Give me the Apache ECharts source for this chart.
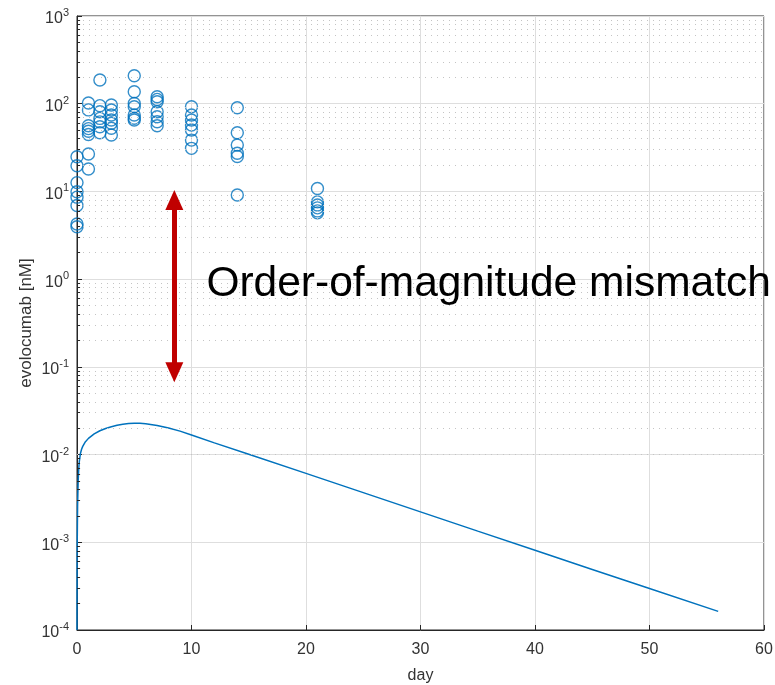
<!DOCTYPE html>
<html>
<head>
<meta charset="utf-8">
<script src="https://cdn.jsdelivr.net/npm/echarts@6/dist/echarts.min.js"></script>
<style>
  html, body { margin: 0; padding: 0; background: #ffffff; }
  #chart { width: 775px; height: 685px; }
</style>
</head>
<body>
<div id="chart"></div>
<script>
// Measured serum evolocumab concentrations [nM], grouped by sampling day
const sampleDays = [0, 1, 2, 3, 5, 7, 10, 14, 21];
const measuredConc = [
  [24.9, 19.6, 12.6, 9.9, 8.6, 6.9, 4.25, 3.96],
  [102, 85, 56, 52, 48.5, 44.5, 26.7, 18],
  [186, 95, 81, 68, 62, 54.7, 46.7],
  [96.6, 84.8, 74.3, 65.2, 59.8, 52.5, 44],
  [208, 137, 100.7, 92.5, 74.3, 68.2, 65.2],
  [120, 112, 105.4, 81, 71, 62.4, 56],
  [92.5, 74.3, 65.2, 57.2, 50.1, 38.5, 31],
  [90, 46.7, 33.8, 27.2, 25, 9.1],
  [10.8, 7.6, 7.0, 6.5, 6.0, 5.7]
];

// Simulated concentration–time profile [nM]
const simDays = [0, 0.005, 0.01, 0.02, 0.05, 0.1, 0.15, 0.2, 0.3, 0.4, 0.5, 0.7, 1, 1.5, 2, 2.5, 3, 3.5, 4, 4.5, 5, 5.5, 6, 7, 8, 9, 10, 12, 15, 20, 25, 30, 35, 40, 45, 50, 56];
const simConc = [0.0001, 0.00025, 0.0005, 0.001, 0.0026, 0.0049, 0.0068, 0.0083, 0.0103, 0.0115, 0.0124, 0.0138, 0.0153, 0.0172, 0.0187, 0.0198, 0.0208, 0.0216, 0.0222, 0.0226, 0.0228, 0.0227, 0.0224, 0.0215, 0.0201, 0.0185, 0.0167, 0.0136, 0.0101, 0.0061, 0.00368, 0.00222, 0.00134, 0.00081, 0.00049, 0.000297, 0.000163];

// Axis ranges
const xRange = [0, 60];
const xStep = 10;
const yRange = [1e-4, 1e3];
const decadeExponents = [-4, -3, -2, -1, 0, 1, 2];
const minorMantissas = [2, 3, 4, 5, 6, 7, 8, 9];

// Annotation: double-headed arrow spanning the gap, and its caption
const arrowDay = 8.5;
const arrowSpan = [8.0, 0.087];
const captionAnchor = [11.3, 0.88];
const captionText = 'Order-of-magnitude mismatch';

const scatterData = [];
sampleDays.forEach((d, i) => {
  measuredConc[i].forEach(v => scatterData.push([d, v]));
});
const lineData = simDays.map((d, i) => [d, simConc[i]]);

// Log-spaced minor levels (2..9 x 10^e) for dotted grid lines and minor ticks
const minorLevels = [];
decadeExponents.forEach(e => {
  minorMantissas.forEach(m => minorLevels.push(+(m * Math.pow(10, e)).toPrecision(3)));
});
const minorTickDays = 0.27;

const axisColor = '#262626';
const textColor = '#333333';
const fontFamily = 'Liberation Sans, Arial, Helvetica, sans-serif';
const blue = '#0072BD';

const chart = echarts.init(document.getElementById('chart'), null, { renderer: 'canvas' });
chart.setOption({
  animation: false,
  backgroundColor: '#ffffff',
  textStyle: { fontFamily: fontFamily },
  grid: {
    left: 77, right: 11, top: 16, bottom: 55,
    outerBoundsMode: 'none',
    containLabel: false,
    show: true, borderColor: axisColor, borderWidth: 1, backgroundColor: 'transparent'
  },
  xAxis: {
    type: 'value',
    min: xRange[0], max: xRange[1], interval: xStep,
    name: 'day',
    nameLocation: 'middle',
    nameGap: 38,
    nameMoveOverlap: false,
    nameTextStyle: { fontSize: 16, color: textColor, fontFamily: fontFamily },
    axisLine: { show: true, lineStyle: { color: axisColor, width: 1 } },
    axisTick: { show: true, inside: true, length: 5, lineStyle: { color: axisColor } },
    axisLabel: { fontSize: 16, color: textColor, margin: 12, fontFamily: fontFamily },
    splitLine: { show: true, lineStyle: { color: '#dedede', width: 1 } }
  },
  yAxis: {
    type: 'log',
    logBase: 10,
    min: yRange[0], max: yRange[1],
    splitNumber: 7,
    name: 'evolocumab [nM]',
    nameLocation: 'middle',
    nameGap: 42,
    nameMoveOverlap: false,
    nameTextStyle: { fontSize: 17, color: textColor, fontFamily: fontFamily },
    axisLine: { show: true, lineStyle: { color: axisColor, width: 1 } },
    axisTick: { show: true, inside: true, length: 5, lineStyle: { color: axisColor } },
    axisLabel: {
      margin: 8,
      formatter: function (v) {
        const e = Math.round(Math.log10(v));
        return '{b|10}{s|' + e + '}';
      },
      rich: {
        b: { fontSize: 16, color: textColor, fontFamily: fontFamily, padding: [6, 0, 0, 0] },
        s: { fontSize: 11, color: textColor, fontFamily: fontFamily, padding: [0, 0, 6, 0] }
      }
    },
    splitLine: { show: true, lineStyle: { color: '#dedede', width: 1 } }
  },
  series: [
    {
      // minor grid: dotted lines at 2..9 within each decade
      type: 'line',
      data: [],
      silent: true,
      z: 1,
      markLine: {
        silent: true,
        symbol: ['none', 'none'],
        label: { show: false },
        animation: false,
        lineStyle: { color: '#c4c4c4', width: 1, type: [1, 5] },
        data: minorLevels.map(v => ({ yAxis: v }))
      }
    },
    {
      // minor ticks on the left axis
      type: 'line',
      data: [],
      silent: true,
      z: 2,
      markLine: {
        silent: true,
        symbol: ['none', 'none'],
        label: { show: false },
        animation: false,
        lineStyle: { color: axisColor, width: 1, type: 'solid' },
        data: minorLevels.map(v => [{ coord: [xRange[0], v] }, { coord: [minorTickDays, v] }])
      }
    },
    {
      type: 'line',
      data: lineData,
      showSymbol: false,
      symbol: 'none',
      silent: true,
      lineStyle: { color: blue, width: 1.5 },
      z: 3
    },
    {
      type: 'scatter',
      data: scatterData,
      symbol: 'circle',
      symbolSize: 12,
      silent: true,
      itemStyle: { color: 'rgba(0,0,0,0)', borderColor: blue, borderWidth: 1.4 },
      z: 4,
      markLine: {
        silent: true,
        symbol: ['triangle', 'triangle'],
        symbolSize: [18, 20],
        label: { show: false },
        lineStyle: { color: '#C00000', width: 5, type: 'solid' },
        itemStyle: { color: '#C00000' },
        data: [[{ coord: [arrowDay, arrowSpan[0]] }, { coord: [arrowDay, arrowSpan[1]] }]]
      },
      markPoint: {
        silent: true,
        symbol: 'circle',
        symbolSize: 0,
        label: {
          show: true,
          position: 'right',
          distance: 0,
          formatter: captionText,
          fontSize: 42.5,
          color: '#000000',
          fontFamily: fontFamily
        },
        data: [{ coord: captionAnchor }]
      }
    }
  ]
});
</script>
</body>
</html>
